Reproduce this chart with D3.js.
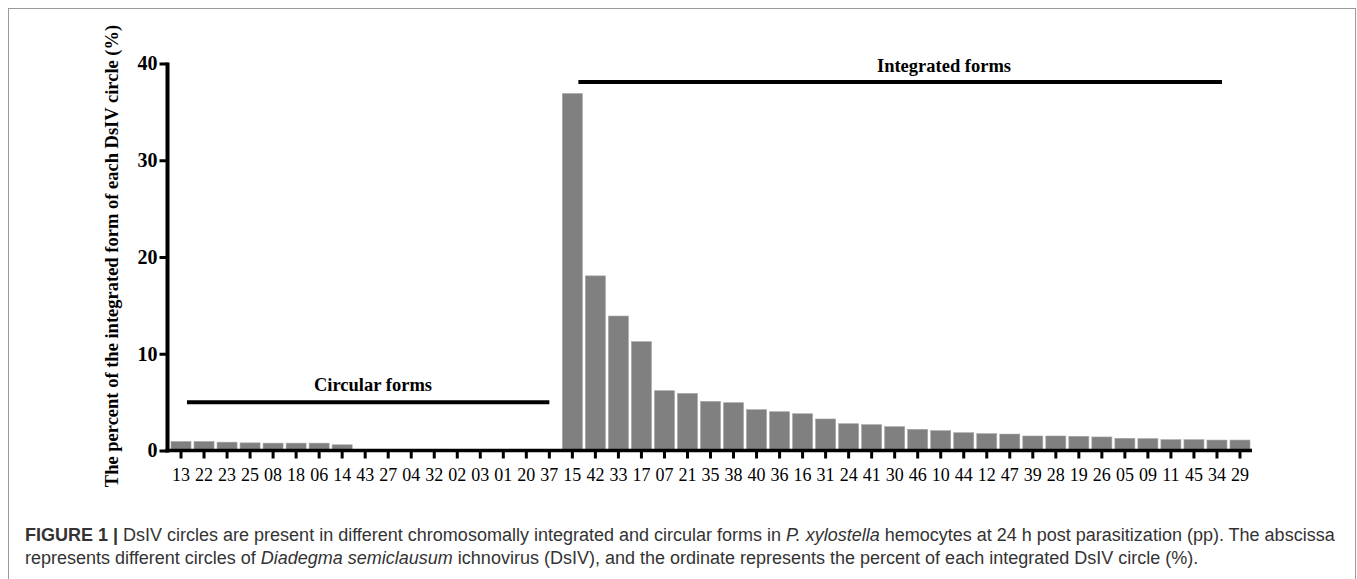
<!DOCTYPE html>
<html>
<head>
<meta charset="utf-8">
<script src="https://cdn.jsdelivr.net/npm/d3@7"></script>
<style>
  body { margin: 0; background: #fff; }
  svg { display: block; }
  .serif { font-family: "Liberation Serif", "Times New Roman", serif; }
  .caption { font-family: "Liberation Sans", Arial, sans-serif; fill: #333; }
</style>
</head>
<body>
<div id="chart"></div>
<script>
var circles = ['13','22','23','25','08','18','06','14','43','27','04','32','02','03','01','20','37',
               '15','42','33','17','07','21','35','38','40','36','16','31','24','41','30','46','10',
               '44','12','47','39','28','19','26','05','09','11','45','34','29'];

var percents = [0.93, 0.93, 0.86, 0.79, 0.76, 0.76, 0.76, 0.59, 0, 0, 0, 0, 0, 0, 0, 0, 0,
                36.9, 18.05, 13.9, 11.25, 6.18, 5.9, 5.08, 4.94, 4.22, 4.01, 3.8, 3.26, 2.77, 2.67, 2.46, 2.19, 2.05,
                1.84, 1.74, 1.7, 1.5, 1.5, 1.47, 1.4, 1.26, 1.23, 1.12, 1.12, 1.08, 1.08];

var yTicks = [0, 10, 20, 30, 40];

var groups = [
  {name: 'Circular forms', from: '13', to: '37', value: 5},
  {name: 'Integrated forms', from: '15', to: '34', value: 38.1}
];

var width = 1357,
    height = 579;

var svg = d3.select('#chart')
  .append('svg')
  .attr('width', width)
  .attr('height', height);

svg.append('rect')
   .attr('x', 8.5)
   .attr('y', 8.5)
   .attr('width', 1347)
   .attr('height', 600)
   .attr('fill', 'none')
   .attr('stroke', '#9a9a9a')
   .attr('stroke-width', 1);

var x = d3.scaleBand()
  .domain(circles)
  .range([169.5, 1251.5])
  .paddingInner(0.13)
  .paddingOuter(0.065);

var y = d3.scaleLinear()
  .domain([0, 40])
  .range([450.5, 63.5]);

// bars
svg.append('g')
   .selectAll('rect')
   .data(circles)
   .enter()
   .append('rect')
   .attr('x', function(d){ return x(d); })
   .attr('y', function(d, i){ return y(percents[i]); })
   .attr('width', x.bandwidth())
   .attr('height', function(d, i){ return y(0) - y(percents[i]); })
   .attr('fill', '#808080')
   .attr('stroke', '#a6a6a6')
   .attr('stroke-width', 0.6);

// y axis
var yAxis = svg.append('g')
   .attr('class', 'serif')
   .attr('transform', 'translate(167.5,0)')
   .call(d3.axisLeft(y).tickValues(yTicks).tickSize(8).tickPadding(2).tickSizeOuter(0));

yAxis.select('.domain')
     .attr('stroke', '#000')
     .attr('stroke-width', 4)
     .attr('d', 'M0,' + (y(40) - 1) + 'V' + (y(0) + 2));
yAxis.selectAll('.tick line')
     .attr('stroke', '#000')
     .attr('stroke-width', 3);
yAxis.selectAll('.tick text')
     .attr('fill', '#000')
     .attr('font-size', 20)
     .attr('font-weight', 'bold');

// x axis
var xAxis = svg.append('g')
   .attr('class', 'serif')
   .attr('transform', 'translate(0,' + y(0) + ')')
   .call(d3.axisBottom(x).tickSize(8).tickPadding(10).tickSizeOuter(0));

xAxis.select('.domain')
     .attr('stroke', '#000')
     .attr('stroke-width', 3.5)
     .attr('d', 'M165.5,0H1252');
xAxis.selectAll('.tick line')
     .attr('stroke', '#000')
     .attr('stroke-width', 3);
xAxis.selectAll('.tick text')
     .attr('fill', '#000')
     .attr('font-size', 18);

// group brackets
svg.append('g')
   .selectAll('line')
   .data(groups)
   .enter()
   .append('line')
   .attr('x1', function(d){ return x(d.from) + x.bandwidth() / 2 + 6; })
   .attr('x2', function(d){ return x(d.to) + x.bandwidth() / 2 + (d.to === '34' ? 5 : 0); })
   .attr('y1', function(d){ return y(d.value); })
   .attr('y2', function(d){ return y(d.value); })
   .attr('stroke', '#000')
   .attr('stroke-width', 4);

svg.append('text')
   .attr('class', 'serif')
   .attr('x', 373)
   .attr('y', y(groups[0].value) - 11)
   .attr('text-anchor', 'middle')
   .attr('font-size', 18.5)
   .attr('font-weight', 'bold')
   .text(groups[0].name);

svg.append('text')
   .attr('class', 'serif')
   .attr('x', 944)
   .attr('y', y(groups[1].value) - 10)
   .attr('text-anchor', 'middle')
   .attr('font-size', 18.5)
   .attr('font-weight', 'bold')
   .text(groups[1].name);

svg.append('text')
   .attr('class', 'serif')
   .attr('transform', 'translate(118,256) rotate(-90)')
   .attr('text-anchor', 'middle')
   .attr('font-size', 18.5)
   .attr('font-weight', 'bold')
   .text('The percent of the integrated form of each DsIV circle (%)');

// caption
var cap1 = svg.append('text')
   .attr('class', 'caption')
   .attr('x', 25)
   .attr('y', 541)
   .attr('font-size', 18);

cap1.append('tspan').attr('font-weight', 'bold').text('FIGURE 1 | ');
cap1.append('tspan').text('DsIV circles are present in different chromosomally integrated and circular forms in ');
cap1.append('tspan').attr('font-style', 'italic').text('P. xylostella');
cap1.append('tspan').text(' hemocytes at 24 h post parasitization (pp). The abscissa');

var cap2 = svg.append('text')
   .attr('class', 'caption')
   .attr('x', 25)
   .attr('y', 564)
   .attr('font-size', 18);

cap2.append('tspan').text('represents different circles of ');
cap2.append('tspan').attr('font-style', 'italic').text('Diadegma semiclausum');
cap2.append('tspan').text(' ichnovirus (DsIV), and the ordinate represents the percent of each integrated DsIV circle (%).');
</script>
</body>
</html>
